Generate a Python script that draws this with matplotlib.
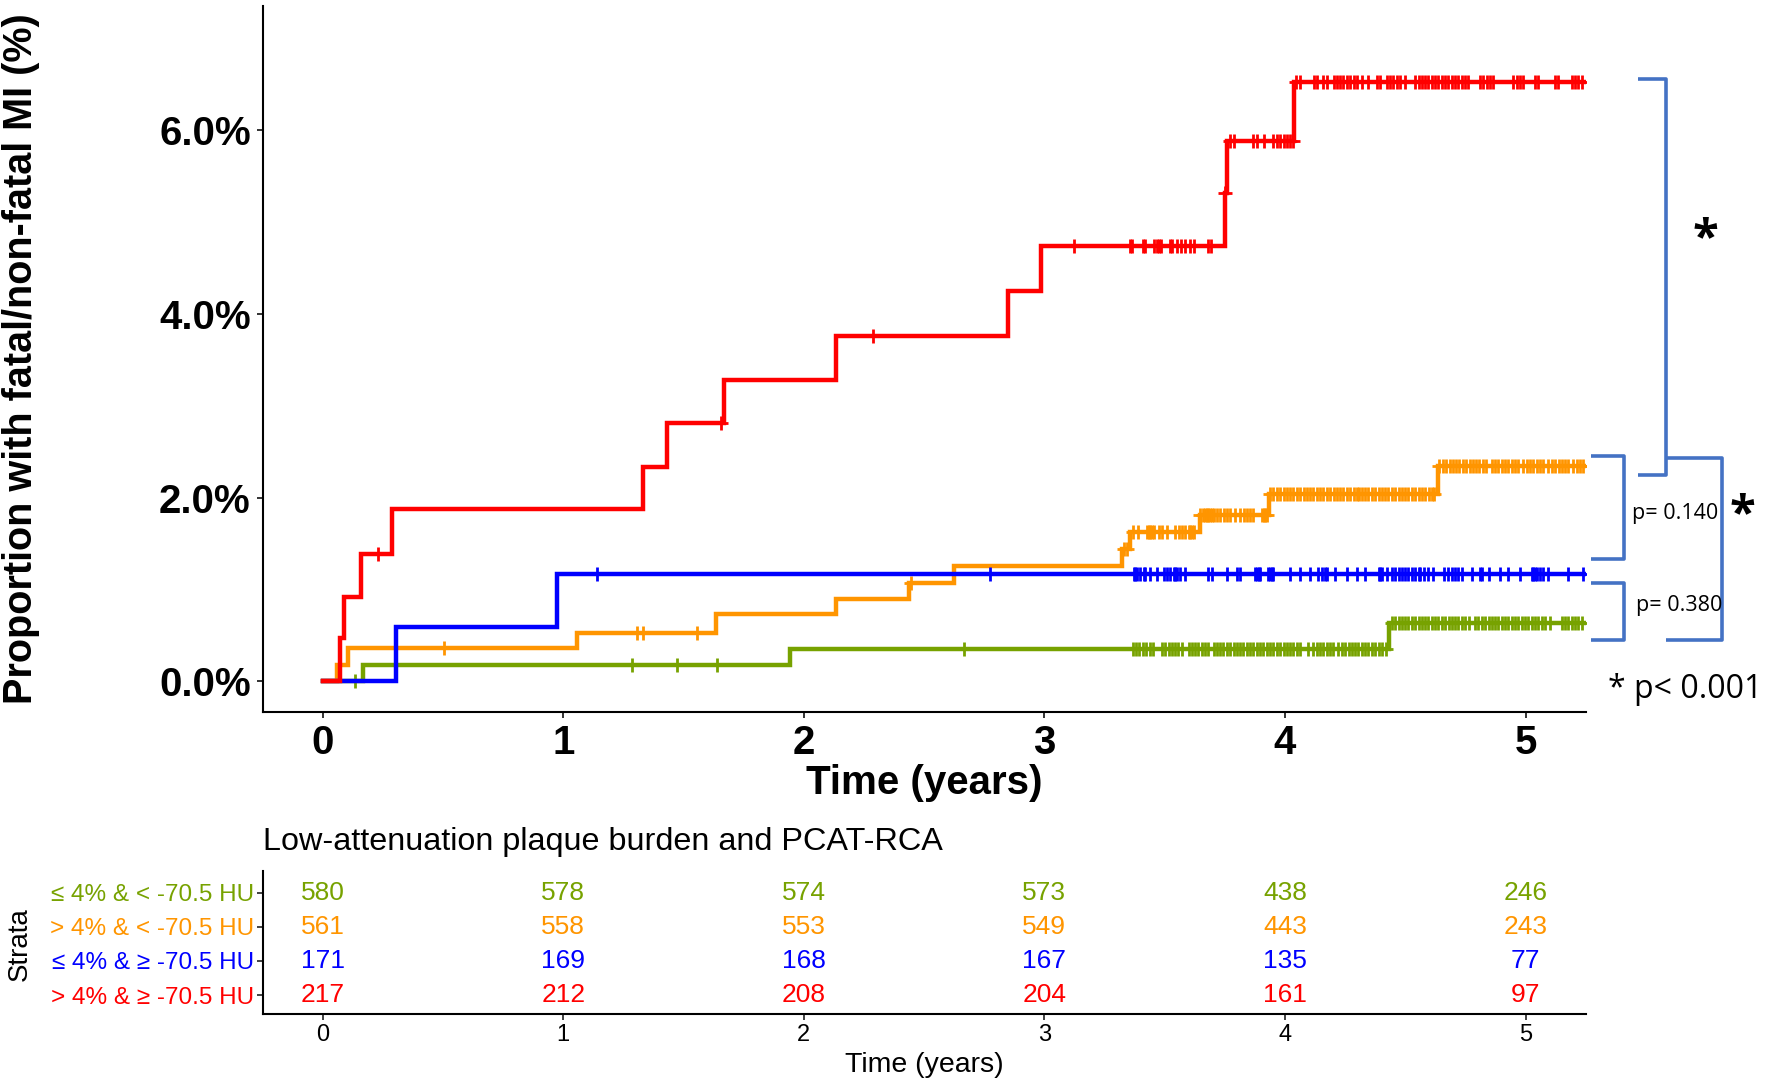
import numpy as np
import matplotlib
matplotlib.use("Agg")
import matplotlib.pyplot as plt
from matplotlib.lines import Line2D

plt.rcParams['font.family'] = ['Liberation Sans', 'DejaVu Sans']

# ---------------- data ----------------
groups = ["≤ 4% & < -70.5 HU", "> 4% & < -70.5 HU", "≤ 4% & ≥ -70.5 HU", "> 4% & ≥ -70.5 HU"]
colors = ["#77A200", "#FF9500", "#0000FF", "#FF0000"]

# step (event) times in years and cumulative incidence (%) after each step
green_t = [0, 0.167, 1.944, 4.434]
green_y = [0, 0.18, 0.35, 0.64]
orange_t = [0, 0.059, 0.106, 1.059, 1.635, 2.133, 2.435, 2.623, 3.322, 3.357, 3.645, 3.932, 4.634]
orange_y = [0, 0.18, 0.36, 0.53, 0.73, 0.90, 1.07, 1.26, 1.44, 1.62, 1.81, 2.04, 2.34]
blue_t = [0, 0.306, 0.974]
blue_y = [0, 0.59, 1.17]
red_t = [0, 0.070, 0.087, 0.157, 0.287, 1.333, 1.431, 1.667, 2.133, 2.849, 2.986, 3.749, 3.758, 4.038]
red_y = [0, 0.47, 0.92, 1.39, 1.87, 2.33, 2.81, 3.28, 3.76, 4.25, 4.74, 5.31, 5.88, 6.52]

end_time = 5.245

# censoring times (years)
green_c = [0.135, 1.287, 1.472, 1.639, 2.664,
           3.368, 3.381, 3.395, 3.409, 3.423, 3.437, 3.451, 3.488, 3.502, 3.516, 3.530, 3.544, 3.557, 3.571,
           3.599, 3.613, 3.627, 3.640, 3.654, 3.668, 3.682, 3.703, 3.717, 3.730, 3.744, 3.758, 3.772, 3.786,
           3.800, 3.814, 3.827, 3.841, 3.855, 3.869, 3.883, 3.897, 3.910, 3.924, 3.938, 3.952, 3.966, 3.980,
           3.994, 4.007, 4.021, 4.035, 4.049, 4.063, 4.097, 4.118, 4.132, 4.146, 4.160, 4.174, 4.187, 4.201,
           4.222, 4.236, 4.250, 4.264, 4.277, 4.291, 4.305, 4.319, 4.333, 4.347, 4.361, 4.375, 4.389, 4.403,
           4.420, 4.444, 4.458, 4.472, 4.486, 4.500, 4.513, 4.527, 4.541, 4.555, 4.569, 4.583, 4.596, 4.610,
           4.624, 4.638, 4.652, 4.666, 4.680, 4.693, 4.707, 4.721, 4.735, 4.749, 4.763, 4.790, 4.804, 4.818,
           4.832, 4.846, 4.860, 4.873, 4.887, 4.901, 4.915, 4.929, 4.943, 4.957, 4.970, 4.984, 4.998, 5.012,
           5.026, 5.040, 5.053, 5.067, 5.081, 5.102, 5.150, 5.164, 5.178, 5.192, 5.206, 5.220, 5.233]
orange_c = [0.504, 1.306, 1.333, 1.556, 2.444, 3.330, 3.343,
            3.368, 3.391, 3.426, 3.433, 3.440, 3.447, 3.454, 3.475, 3.488, 3.509, 3.544, 3.558, 3.571, 3.585,
            3.599, 3.606, 3.613, 3.620, 3.648, 3.661, 3.668, 3.675, 3.682, 3.689, 3.696, 3.703, 3.717, 3.731,
            3.745, 3.758, 3.772, 3.793, 3.814, 3.828, 3.842, 3.855, 3.869, 3.904, 3.911, 3.918, 3.925,
            3.938, 3.952, 3.966, 3.980, 3.994, 4.008, 4.022, 4.035, 4.049, 4.063, 4.077, 4.091, 4.105, 4.118,
            4.132, 4.146, 4.160, 4.174, 4.188, 4.202, 4.216, 4.229, 4.243, 4.257, 4.271, 4.285, 4.299, 4.306,
            4.319, 4.333, 4.347, 4.361, 4.375, 4.389, 4.403, 4.416, 4.430, 4.444, 4.458, 4.472, 4.486, 4.500,
            4.513, 4.527, 4.541, 4.555, 4.569, 4.583, 4.597, 4.610, 4.620,
            4.642, 4.656, 4.670, 4.684, 4.698, 4.711, 4.725, 4.739, 4.753, 4.767, 4.781, 4.794, 4.808, 4.822,
            4.836, 4.860, 4.873, 4.887, 4.901, 4.915, 4.929, 4.943, 4.956, 4.970, 4.991, 5.005, 5.019, 5.033,
            5.047, 5.060, 5.074, 5.095, 5.109, 5.123, 5.137, 5.150, 5.164, 5.178, 5.199, 5.213, 5.227, 5.240]
blue_c = [1.14, 2.775,
          3.371, 3.377, 3.384, 3.398, 3.412, 3.419, 3.440, 3.467, 3.495, 3.509, 3.523, 3.537, 3.544, 3.550,
          3.564, 3.585, 3.682, 3.696, 3.758, 3.800, 3.814, 3.876, 3.883, 3.890, 3.897, 3.931, 3.938, 3.945,
          3.952, 4.021, 4.063, 4.104, 4.139, 4.153, 4.167, 4.174, 4.208, 4.257, 4.298,
          4.333, 4.389, 4.396, 4.403, 4.423, 4.444, 4.458, 4.472, 4.486, 4.500, 4.513, 4.527, 4.541, 4.555,
          4.562, 4.576, 4.596, 4.617, 4.659, 4.679, 4.693, 4.707, 4.721, 4.735, 4.776, 4.811, 4.818, 4.846,
          4.894, 4.929, 4.977, 5.026, 5.033, 5.040, 5.047, 5.060, 5.074, 5.095, 5.178, 5.240]
red_c = [0.23, 1.657, 2.289, 3.124,
         3.355, 3.364, 3.410, 3.420, 3.457, 3.466, 3.475, 3.484, 3.522, 3.531, 3.549, 3.568, 3.586, 3.605,
         3.623, 3.679, 3.692, 3.752,
         3.772, 3.786, 3.869, 3.883, 3.911, 3.952, 3.966, 3.980, 3.994, 4.008, 4.021, 4.032,
         4.047, 4.063, 4.119, 4.133, 4.160, 4.174, 4.202, 4.216, 4.229, 4.243, 4.257, 4.271, 4.285, 4.299,
         4.319, 4.347, 4.382, 4.393, 4.423, 4.437, 4.451, 4.465, 4.479, 4.499, 4.541, 4.555, 4.569, 4.582,
         4.596, 4.610, 4.624, 4.638, 4.652, 4.666, 4.679, 4.693, 4.707, 4.721, 4.735, 4.749, 4.762, 4.811,
         4.825, 4.839, 4.853, 4.864, 4.949, 4.963, 4.977, 4.988, 5.039, 5.053, 5.122, 5.136, 5.192, 5.206,
         5.219, 5.233]

# numbers at risk
risk_times = [0, 1, 2, 3, 4, 5]
risk_green = [580, 578, 574, 573, 438, 246]
risk_orange = [561, 558, 553, 549, 443, 243]
risk_blue = [171, 169, 168, 167, 135, 77]
risk_red = [217, 212, 208, 204, 161, 97]

y_ticks = [0, 2, 4, 6]
y_tick_labels = ["0.0%", "2.0%", "4.0%", "6.0%"]
x_ticks = [0, 1, 2, 3, 4, 5]

# ---------------- figure ----------------
W, H = 1767, 1086
fig = plt.figure(figsize=(W / 100, H / 100), dpi=100)


def fx(x):
    return x / W


def fy(y):
    return 1 - y / H


ax = fig.add_axes([fx(262.6), fy(712.3), (1585.7 - 262.6) / W, (712.3 - 5.6) / H])

series = [(green_t, green_y, green_c, colors[0]),
          (orange_t, orange_y, orange_c, colors[1]),
          (blue_t, blue_y, blue_c, colors[2]),
          (red_t, red_y, red_c, colors[3])]

for t, y, c, col in series:
    tt = list(t) + [end_time]
    yy = list(y) + [y[-1]]
    ax.step(tt, yy, where='post', color=col, lw=3.2, solid_joinstyle='miter', zorder=3)
    t_arr = np.asarray(t)
    y_arr = np.asarray(y)
    c_arr = np.asarray(c)
    idx = np.searchsorted(t_arr, c_arr, side='right') - 1
    ax.plot(c_arr, y_arr[idx], ls='none', marker='+', ms=10, mew=2.0, color=col, zorder=3)

ax.set_xlim(-0.25, 5.25)
ax.set_ylim(-0.336, 7.35)
ax.set_xticks(x_ticks)
ax.set_xticklabels([str(v) for v in x_ticks], fontsize=29, fontweight='bold')
ax.set_yticks(y_ticks)
ax.set_yticklabels(y_tick_labels, fontsize=29, fontweight='bold')
for s in ['top', 'right']:
    ax.spines[s].set_visible(False)
for s in ['left', 'bottom']:
    ax.spines[s].set_linewidth(1.5)
ax.tick_params(axis='both', length=4.5, width=1.4, color='#333333')
ax.tick_params(axis='y', pad=4)
ax.tick_params(axis='x', pad=4)
ax.patch.set_alpha(0)

fig.text(fx(924), fy(783), "Time (years)", fontsize=29, fontweight='bold', ha='center', va='center')
fig.text(fx(21), fy(359), "Proportion with fatal/non-fatal MI (%)", fontsize=28.5, fontweight='bold',
         rotation=90, ha='center', va='center')

# ---------------- risk table ----------------
tab = fig.add_axes([fx(262.6), fy(1014.3), (1585.7 - 262.6) / W, (1014.3 - 871) / H])
tab.set_xlim(-0.25, 5.25)
tab.set_ylim(0.44, 4.63)
rows = [(risk_green, colors[0], 4), (risk_orange, colors[1], 3), (risk_blue, colors[2], 2), (risk_red, colors[3], 1)]
for vals, col, r in rows:
    for tval, v in zip(risk_times, vals):
        tab.text(tval, r, str(v), color=col, fontsize=19, ha='center', va='center')
tab.set_yticks([4, 3, 2, 1])
tab.set_yticklabels(groups, fontsize=17.5)
for lab, col in zip(tab.get_yticklabels(), colors):
    lab.set_color(col)
tab.set_xticks(x_ticks)
tab.set_xticklabels([str(v) for v in x_ticks], fontsize=17)
for s in ['top', 'right']:
    tab.spines[s].set_visible(False)
for s in ['left', 'bottom']:
    tab.spines[s].set_linewidth(1.5)
tab.tick_params(axis='both', length=4, width=1.3, color='#333333')
tab.tick_params(axis='x', pad=3)
tab.tick_params(axis='y', pad=2)

fig.text(fx(262.6), fy(842), "Low-attenuation plaque burden and PCAT-RCA", fontsize=23.3, ha='left', va='center')
fig.text(fx(924), fy(1065), "Time (years)", fontsize=20.5, ha='center', va='center')
fig.text(fx(20), fy(944), "Strata", fontsize=20, rotation=90, ha='center', va='center')

# ---------------- brackets / annotations ----------------
bcol = '#4472C4'


def bracket(x0, x1, y0, y1):
    xs = [fx(x0), fx(x1), fx(x1), fx(x0)]
    ys = [fy(y0), fy(y0), fy(y1), fy(y1)]
    fig.add_artist(Line2D(xs, ys, transform=fig.transFigure, color=bcol, lw=2.6,
                          solid_joinstyle='round', solid_capstyle='butt'))


bracket(1637.5, 1665.7, 78.9, 474.5)
bracket(1591.3, 1624.0, 456.4, 559.0)
bracket(1591.3, 1624.0, 582.7, 640.1)
bracket(1666.0, 1722.0, 457.6, 640.1)

ofont = ['Open Sans', 'DejaVu Sans']
fig.text(fx(1705), fy(240), "*", fontsize=34, fontweight='bold', family=ofont, ha='center', va='center')
fig.text(fx(1742), fy(516), "*", fontsize=34, fontweight='bold', family=ofont, ha='center', va='center')
fig.text(fx(1632), fy(513), "p= 0.140", fontsize=15.5, family=ofont, ha='left', va='center')
fig.text(fx(1636), fy(605), "p= 0.380", fontsize=15.5, family=ofont, ha='left', va='center')
fig.text(fx(1608), fy(690), "* p< 0.001", fontsize=23, family=ofont, ha='left', va='center')

fig.savefig("out.png", dpi=100)
